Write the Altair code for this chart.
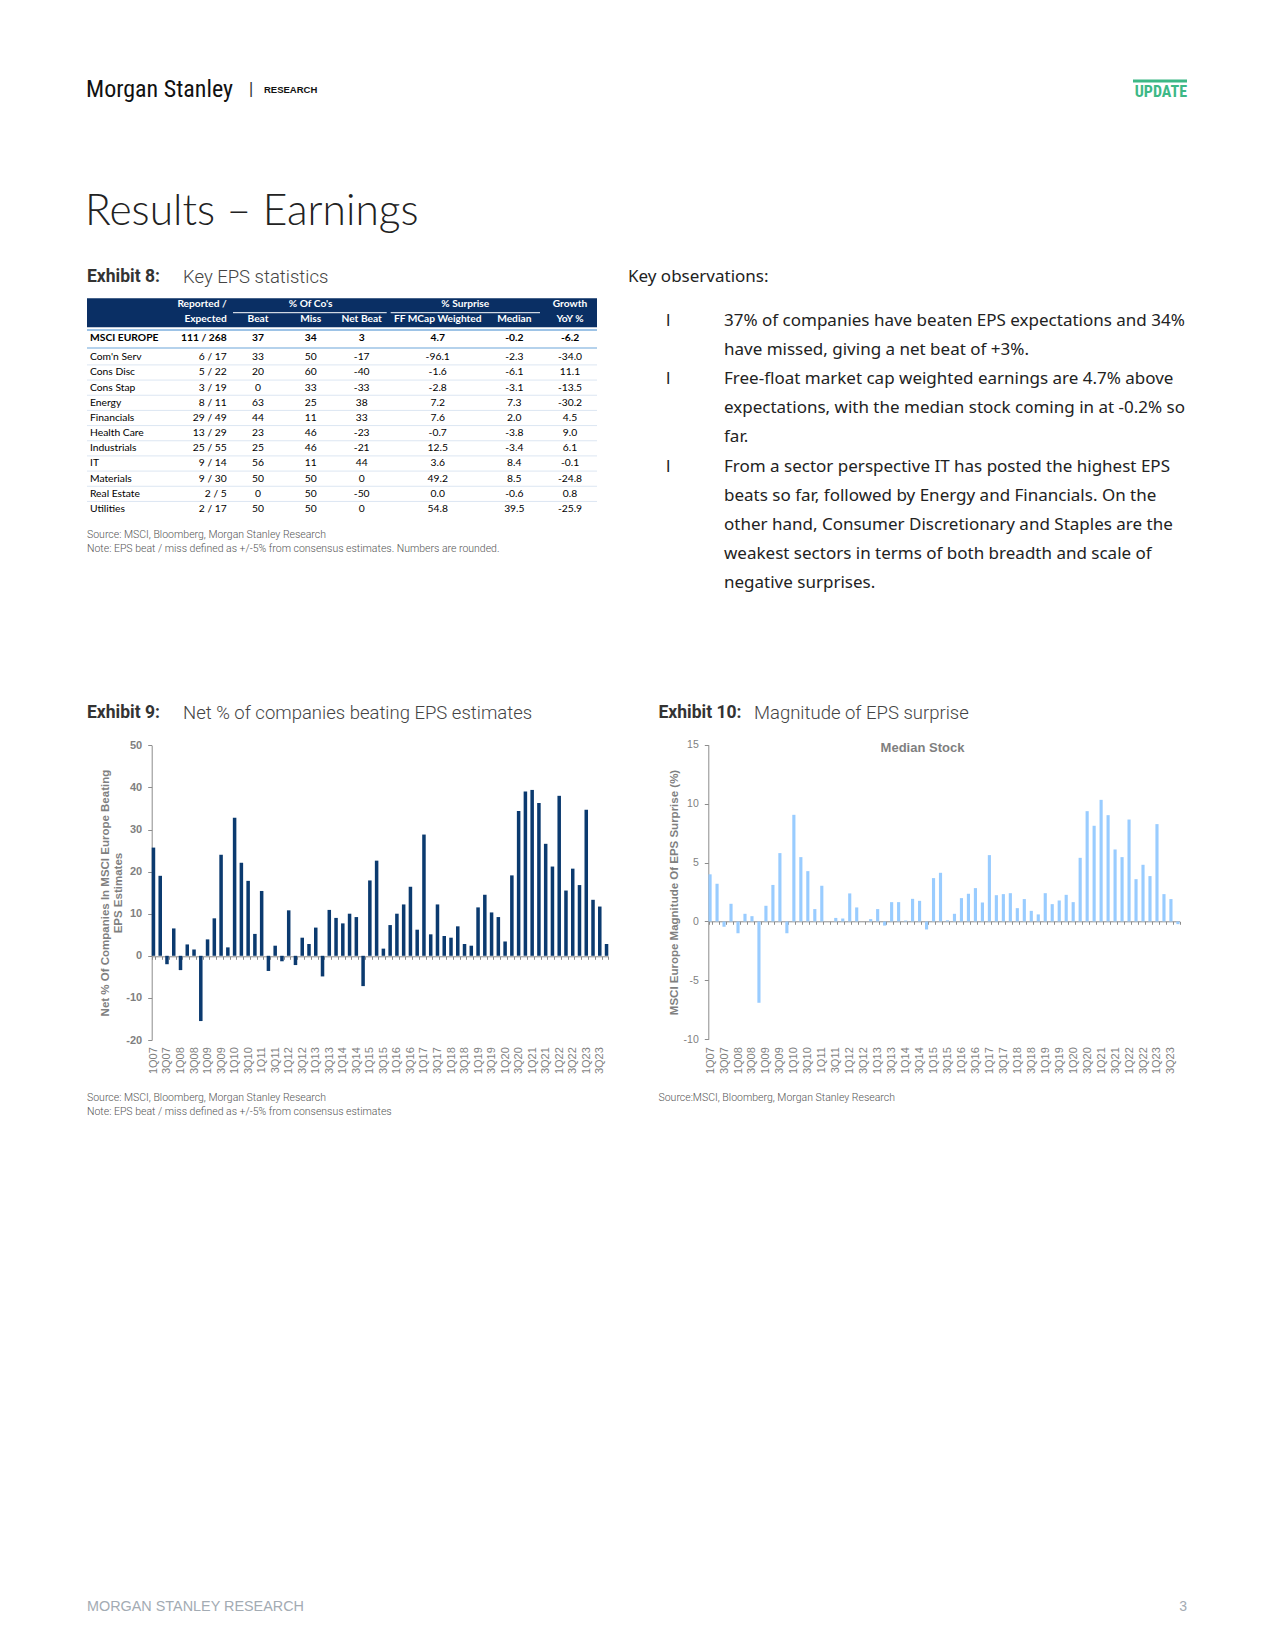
import altair as alt
import pandas as pd

W, H = 1275, 1650

# ---------------- data ----------------
quarters = [f"{q}Q{y:02d}" for y in range(7, 24) for q in (1, 2, 3, 4)]

net_beat_pct = [
    25.7, 19.0, -2.0, 6.5, -3.4, 2.7, 1.5, -15.5,
    3.9, 8.9, 24.0, 2.0, 32.8, 22.1, 17.8, 5.2,
    15.4, -3.6, 2.4, -1.3, 10.8, -2.2, 4.3, 2.8,
    6.7, -4.9, 10.9, 9.0, 7.7, 10.0, 9.2, -7.2,
    17.9, 22.6, 1.7, 7.3, 10.0, 12.2, 16.4, 6.2,
    28.8, 5.1, 12.2, 4.7, 4.3, 7.0, 2.8, 2.4,
    11.5, 14.5, 10.3, 9.2, 3.4, 19.1, 34.4, 39.0,
    39.4, 36.3, 26.6, 21.2, 38.0, 15.5, 20.7, 16.8,
    34.7, 13.3, 11.7, 2.8,
]

median_surprise_pct = [
    4.0, 3.2, -0.45, 1.5, -1.0, 0.65, 0.45, -6.9,
    1.33, 3.1, 5.8, -1.0, 9.05, 5.46, 4.27, 1.05,
    3.03, 0.0, 0.3, 0.25, 2.38, 1.19, 0.0, 0.2,
    1.05, -0.35, 1.64, 1.64, 0.08, 1.92, 1.75, -0.68,
    3.68, 4.13, 0.1, 0.65, 1.98, 2.35, 2.83, 1.61,
    5.63, 2.23, 2.32, 2.4, 1.13, 1.9, 0.9, 0.6,
    2.4, 1.47, 1.78, 2.26, 1.64, 5.4, 9.36, 8.12,
    10.32, 9.02, 6.11, 5.46, 8.65, 3.59, 4.81, 3.85,
    8.26, 2.32, 1.9, -0.23,
]

sectors = ["Com'n Serv", "Cons Disc", "Cons Stap", "Energy", "Financials", "Health Care",
           "Industrials", "IT", "Materials", "Real Estate", "Utilities"]
reported = ["6 / 17", "5 / 22", "3 / 19", "8 / 11", "29 / 49", "13 / 29", "25 / 55",
            "9 / 14", "9 / 30", "2 / 5", "2 / 17"]
beat = [33, 20, 0, 63, 44, 23, 25, 56, 50, 0, 50]
miss = [50, 60, 33, 25, 11, 46, 46, 11, 50, 50, 50]
net_beat = [-17, -40, -33, 38, 33, -23, -21, 44, 0, -50, 0]
ff_surprise = [-96.1, -1.6, -2.8, 7.2, 7.6, -0.7, 12.5, 3.6, 49.2, 0.0, 54.8]
median_surprise = [-2.3, -6.1, -3.1, 7.3, 2.0, -3.8, -3.4, 8.4, 8.5, -0.6, 39.5]
growth_yoy = [-34.0, 11.1, -13.5, -30.2, 4.5, 9.0, 6.1, -0.1, -24.8, 0.8, -25.9]

msci_row = {"name": "MSCI EUROPE", "reported": "111 / 268", "beat": 37, "miss": 34,
            "net": 3, "ff": 4.7, "median": -0.2, "growth": -6.2}

observations = [
    "37% of companies have beaten EPS expectations and 34%",
    "have missed, giving a net beat of +3%.",
    "Free-float market cap weighted earnings are 4.7% above",
    "expectations, with the median stock coming in at -0.2% so",
    "far.",
    "From a sector perspective IT has posted the highest EPS",
    "beats so far, followed by Energy and Financials. On the",
    "other hand, Consumer Discretionary and Staples are the",
    "weakest sectors in terms of both breadth and scale of",
    "negative surprises.",
]
bullet_lines = [0, 2, 5]   # line index where each bullet starts

# ---------------- styles ----------------
NAVY_BAR = "#0B3A6F"
LIGHT_BAR = "#99CCFF"
HEAD_NAVY = "#0A2F64"
GREEN = "#3DB886"
AX_GRAY = "#8C8C8C"
LBL_GRAY = "#7F7F7F"
ARIAL = "Liberation Sans, Arial, sans-serif"
NARROW = "Liberation Sans Narrow, Roboto Condensed, Arial Narrow, sans-serif"
TBL = "Lato, Calibri, sans-serif"
BODY = "Noto Sans, sans-serif"
LINE_H = 29.1
OBS_Y0 = 321


def one():
    return alt.InlineData(values=[{"k": 0}])


def label(s, x, y, size, color="#222222", weight="normal", font="Roboto",
          align="left", baseline="middle", line_height=None):
    kw = dict(align=align, baseline=baseline, font=font, fontSize=size,
              fontWeight=weight, color=color)
    if line_height is not None:
        kw["lineHeight"] = line_height
    return alt.Chart(one()).mark_text(**kw).encode(
        x=alt.value(x), y=alt.value(y), text=alt.value(s))


def box(x1, x2, y1, y2, color):
    return alt.Chart(one()).mark_rect(color=color).encode(
        x=alt.value(x1), x2=alt.value(x2), y=alt.value(y1), y2=alt.value(y2))


def hline(x1, x2, y, color, width=1.0):
    return alt.Chart(one()).mark_rule(color=color, strokeWidth=width).encode(
        x=alt.value(x1), x2=alt.value(x2), y=alt.value(y))


layers = []

# ---------------- page header ----------------
layers += [
    label("Morgan Stanley", 86, 90, 24, "#111111", font=NARROW),
    label("|", 249, 89, 16, "#333333", font=ARIAL),
    label("RESEARCH", 264, 90, 9.5, "#111111", weight="bold", font=ARIAL),
    box(1133, 1187, 79.5, 82.5, GREEN),
    label("UPDATE", 1187, 92, 16, GREEN, weight="bold", font=NARROW, align="right"),
    label("Results \u2013 Earnings", 85, 212, 42.5, "#222222", weight=300, font="Lato"),
    label("Exhibit 8:", 87, 277, 17.5, "#333333", weight="bold"),
    label("Key EPS statistics", 183, 277, 18.5, "#444444", weight=300),
    label("Key observations:", 628, 277, 17, "#222222", font=BODY),
    label(observations, 724, OBS_Y0, 17, "#222222", font=BODY, line_height=LINE_H),
]
for i in bullet_lines:
    layers.append(label("l", 666, OBS_Y0 + i * LINE_H, 17, "#222222", font=BODY))

# ---------------- table ----------------
tbl = pd.DataFrame({
    "row": sectors,
    "reported": reported,
    "beat": [str(v) for v in beat],
    "miss": [str(v) for v in miss],
    "net": [str(v) for v in net_beat],
    "ff": [f"{v:.1f}" for v in ff_surprise],
    "median": [f"{v:.1f}" for v in median_surprise],
    "growth": [f"{v:.1f}" for v in growth_yoy],
})

row_scale = alt.Scale(type="point", domain=sectors, range=[357.3, 509.0], padding=0)
ROW_Y = alt.Y("row:N", scale=row_scale, axis=None)

cols = [("row", 90, "left"), ("reported", 226.7, "right"), ("beat", 258, "center"),
        ("miss", 310.7, "center"), ("net", 361.7, "center"), ("ff", 437.7, "center"),
        ("median", 514.3, "center"), ("growth", 570, "center")]

layers += [
    box(87, 597, 298.3, 327.3, HEAD_NAVY),
    hline(233, 386.7, 312.7, "#FFFFFF", 1),
    hline(390.7, 540, 312.7, "#FFFFFF", 1),
    hline(87, 597, 330.0, "#9DC3E6", 2),
    hline(87, 597, 348.0, "#9DC3E6", 1.5),
]
hdr = [("Reported /", 226.7, 304.3, "right"), ("Expected", 226.7, 319.3, "right"),
       ("% Of Co's", 310.7, 304.3, "center"), ("Beat", 258, 319.3, "center"),
       ("Miss", 310.7, 319.3, "center"), ("Net Beat", 361.7, 319.3, "center"),
       ("% Surprise", 465.3, 304.3, "center"), ("FF MCap Weighted", 437.7, 319.3, "center"),
       ("Median", 514.3, 319.3, "center"), ("Growth", 570, 304.3, "center"),
       ("YoY %", 570, 319.3, "center")]
for s, x, y, a in hdr:
    layers.append(label(s, x, y, 10.2, "#FFFFFF", weight="bold", font=TBL, align=a))

msci_vals = [msci_row["name"], msci_row["reported"], str(msci_row["beat"]), str(msci_row["miss"]),
             str(msci_row["net"]), f"{msci_row['ff']:.1f}", f"{msci_row['median']:.1f}",
             f"{msci_row['growth']:.1f}"]
for (key, x, a), v in zip(cols, msci_vals):
    layers.append(label(v, x, 338.3, 10.3, "#000000", weight="bold", font=TBL, align=a))

sep = alt.Chart(tbl.iloc[:-1]).mark_rule(color="#DCE6F2", strokeWidth=1, yOffset=7.6).encode(
    y=ROW_Y, x=alt.value(87), x2=alt.value(597))
layers.append(sep)

for key, x, a in cols:
    layers.append(
        alt.Chart(tbl).mark_text(align=a, baseline="middle", font=TBL, fontSize=10.3,
                                 color="#000000").encode(
            x=alt.value(x), y=ROW_Y, text=alt.Text(f"{key}:N")))

layers += [
    label("Source: MSCI, Bloomberg, Morgan Stanley Research", 87, 534.5, 10.5, "#555555", weight=300),
    label("Note: EPS beat / miss defined as +/-5% from consensus estimates. Numbers are rounded.",
          87, 548.5, 10.5, "#555555", weight=300),
]

# ---------------- Exhibit 9 ----------------
lbl_expr = ("(substring(datum.label,0,1)=='1' || substring(datum.label,0,1)=='3') "
            "? datum.label : ''")

df9 = pd.DataFrame({"quarter": quarters, "net": net_beat_pct})
bars9 = alt.Chart(df9).mark_bar(color=NAVY_BAR).encode(
    x=alt.X("quarter:N", sort=None,
            scale=alt.Scale(domain=quarters, range=[151.7, 608.3], paddingInner=0.48, paddingOuter=0),
            axis=alt.Axis(orient="bottom", offset=956.3 - H, title=None, grid=False,
                          domainColor=AX_GRAY, domainWidth=1, tickColor=AX_GRAY, tickSize=3,
                          tickBand="extent", labelAngle=270, labelPadding=87.4,
                          labelFont=ARIAL, labelFontSize=11, labelColor=LBL_GRAY,
                          labelOverlap=False, labelExpr=lbl_expr)),
    y=alt.Y("net:Q",
            scale=alt.Scale(domain=[-20, 50], range=[1040.0, 745.3], nice=False, zero=True),
            axis=alt.Axis(orient="left", offset=-151.7, values=list(range(-20, 51, 10)),
                          grid=False, domainColor=AX_GRAY, tickColor=AX_GRAY, tickSize=4,
                          labelFont=ARIAL, labelFontSize=11, labelFontWeight="bold",
                          labelColor=LBL_GRAY, labelPadding=6, labelExpr="'' + datum.value",
                          title=["Net % Of Companies In MSCI Europe Beating", "EPS Estimates"],
                          titleFont=ARIAL, titleFontSize=11.5, titleFontWeight="bold",
                          titleColor=LBL_GRAY, titleX=-46.5, titleY=892.6, titleAngle=270,
                          titleAlign="center", titleBaseline="middle", titleLineHeight=13)),
)
layers += [
    label("Exhibit 9:", 87, 713, 17.5, "#333333", weight="bold"),
    label("Net % of companies beating EPS estimates", 183, 713, 18.5, "#444444", weight=300),
    bars9,
    label("Source: MSCI, Bloomberg, Morgan Stanley Research", 87, 1097.5, 10.5, "#555555", weight=300),
    label("Note: EPS beat / miss defined as +/-5% from consensus estimates", 87, 1112, 10.5,
          "#555555", weight=300),
]

# ---------------- Exhibit 10 ----------------
df10 = pd.DataFrame({"quarter": quarters, "median": median_surprise_pct})
bars10 = alt.Chart(df10).mark_bar(color=LIGHT_BAR).encode(
    x=alt.X("quarter:N", sort=None,
            scale=alt.Scale(domain=quarters, range=[708.5, 1179.5], paddingInner=0.55, paddingOuter=0),
            axis=alt.Axis(orient="bottom", offset=921.3 - H, title=None, grid=False,
                          domainColor=AX_GRAY, domainWidth=1, tickColor=AX_GRAY, tickSize=3,
                          tickBand="extent", labelAngle=270, labelPadding=122.4,
                          labelFont=ARIAL, labelFontSize=11, labelColor=LBL_GRAY,
                          labelOverlap=False, labelExpr=lbl_expr)),
    y=alt.Y("median:Q",
            scale=alt.Scale(domain=[-10, 15], range=[1039.3, 744.7], nice=False, zero=True),
            axis=alt.Axis(orient="left", offset=-708.3, values=list(range(-10, 16, 5)),
                          grid=False, domainColor=AX_GRAY, tickColor=AX_GRAY, tickSize=4,
                          labelFont=ARIAL, labelFontSize=10.5, labelColor=LBL_GRAY,
                          labelPadding=6, labelExpr="'' + datum.value",
                          title="MSCI Europe Magnitude Of EPS Surprise (%)",
                          titleFont=ARIAL, titleFontSize=11.5, titleFontWeight="bold",
                          titleColor=LBL_GRAY, titleX=-34, titleY=892.0, titleAngle=270,
                          titleAlign="center", titleBaseline="middle")),
)
layers += [
    label("Exhibit 10:", 658.5, 713, 17.5, "#333333", weight="bold"),
    label("Magnitude of EPS surprise", 754, 713, 18.5, "#444444", weight=300),
    bars10,
    label("Median Stock", 922.5, 748, 13, LBL_GRAY, weight="bold", font=ARIAL, align="center"),
    label("Source:MSCI, Bloomberg, Morgan Stanley Research", 658.5, 1097.5, 10.5, "#555555", weight=300),
]

# ---------------- footer ----------------
layers += [
    label("MORGAN STANLEY RESEARCH", 87, 1606.5, 14.4, "#A3ABB3", weight=300, font=ARIAL),
    label("3", 1187, 1606.5, 14, "#A3ABB3", font=ARIAL, align="right"),
]

chart = (
    alt.layer(*layers)
    .resolve_scale(x="independent", y="independent")
    .resolve_axis(x="independent", y="independent")
    .properties(width=W, height=H, autosize=alt.AutoSizeParams(type="none"), padding=0,
                background="#FFFFFF")
    .configure_view(strokeWidth=0)
)

chart.save("out.html", embed_options={"renderer": "svg", "actions": False})
